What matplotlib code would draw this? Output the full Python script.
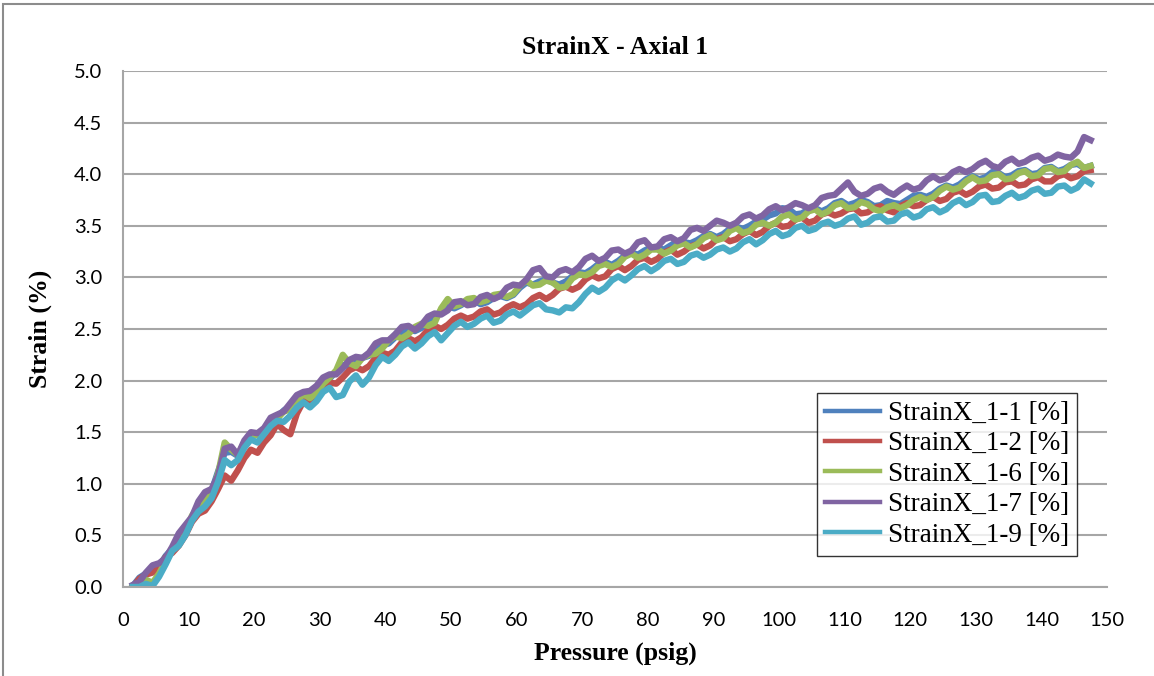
import numpy as np
import matplotlib
matplotlib.use("Agg")
import matplotlib.pyplot as plt
from matplotlib.patches import Rectangle

# pressure samples (psig), one per psig
pressure = np.arange(1.5, 148.0, 1.0)

strain_1_1 = [0.01, 0.09, 0.13, 0.15, 0.20, 0.30, 0.37, 0.49, 0.57, 0.66,
              0.80, 0.88, 0.93, 1.12, 1.30, 1.31, 1.27, 1.39, 1.47, 1.48,
              1.53, 1.60, 1.64, 1.71, 1.75, 1.82, 1.86, 1.88, 1.92, 1.99,
              2.02, 2.09, 2.15, 2.14, 2.18, 2.22, 2.24, 2.30, 2.34, 2.36,
              2.42, 2.47, 2.49, 2.48, 2.51, 2.57, 2.60, 2.68, 2.72, 2.70,
              2.73, 2.77, 2.78, 2.74, 2.76, 2.80, 2.82, 2.80, 2.83, 2.90,
              2.95, 2.93, 2.96, 2.98, 2.95, 2.93, 2.96, 3.01, 3.05, 3.04,
              3.08, 3.13, 3.15, 3.12, 3.16, 3.21, 3.24, 3.22, 3.26, 3.29,
              3.28, 3.27, 3.31, 3.35, 3.34, 3.33, 3.36, 3.40, 3.42, 3.39,
              3.42, 3.47, 3.49, 3.47, 3.50, 3.54, 3.56, 3.60, 3.62, 3.67,
              3.66, 3.61, 3.62, 3.66, 3.67, 3.64, 3.67, 3.72, 3.74, 3.70,
              3.72, 3.75, 3.73, 3.69, 3.70, 3.74, 3.72, 3.71, 3.75, 3.79,
              3.80, 3.78, 3.81, 3.86, 3.89, 3.87, 3.90, 3.95, 3.98, 3.95,
              3.97, 4.02, 4.01, 3.97, 3.99, 4.03, 4.04, 4.00, 4.01, 4.06,
              4.07, 4.03, 4.05, 4.09, 4.10, 4.06, 4.08]
strain_1_2 = [0.00, 0.08, 0.12, 0.14, 0.20, 0.29, 0.33, 0.40, 0.50, 0.63,
              0.71, 0.74, 0.83, 0.95, 1.08, 1.03, 1.13, 1.25, 1.33, 1.30,
              1.40, 1.47, 1.58, 1.52, 1.48, 1.68, 1.80, 1.79, 1.84, 1.93,
              1.98, 1.97, 2.03, 2.10, 2.13, 2.10, 2.14, 2.22, 2.27, 2.25,
              2.29, 2.37, 2.41, 2.38, 2.42, 2.49, 2.53, 2.50, 2.54, 2.60,
              2.63, 2.60, 2.62, 2.67, 2.69, 2.64, 2.66, 2.71, 2.74, 2.71,
              2.74, 2.80, 2.83, 2.79, 2.83, 2.89, 2.91, 2.88, 2.91, 2.98,
              3.02, 2.99, 3.01, 3.08, 3.11, 3.07, 3.11, 3.17, 3.19, 3.15,
              3.18, 3.24, 3.27, 3.22, 3.25, 3.30, 3.32, 3.28, 3.31, 3.37,
              3.39, 3.35, 3.37, 3.42, 3.45, 3.41, 3.44, 3.50, 3.53, 3.49,
              3.50, 3.56, 3.58, 3.53, 3.55, 3.61, 3.63, 3.60, 3.62, 3.66,
              3.67, 3.62, 3.63, 3.67, 3.69, 3.65, 3.63, 3.69, 3.72, 3.69,
              3.70, 3.75, 3.78, 3.74, 3.76, 3.82, 3.84, 3.80, 3.83, 3.88,
              3.90, 3.86, 3.87, 3.92, 3.93, 3.89, 3.90, 3.95, 3.97, 3.93,
              3.93, 3.98, 4.00, 3.96, 3.98, 4.03, 4.04]
strain_1_6 = [0.00, 0.02, 0.07, 0.04, 0.13, 0.25, 0.36, 0.47, 0.53, 0.69,
              0.78, 0.83, 0.90, 1.10, 1.40, 1.33, 1.28, 1.40, 1.48, 1.47,
              1.50, 1.58, 1.63, 1.70, 1.72, 1.80, 1.87, 1.83, 1.88, 1.97,
              2.03, 2.10, 2.25, 2.17, 2.14, 2.22, 2.25, 2.26, 2.31, 2.39,
              2.43, 2.41, 2.45, 2.52, 2.55, 2.53, 2.56, 2.70, 2.79, 2.72,
              2.74, 2.79, 2.80, 2.76, 2.78, 2.83, 2.84, 2.81, 2.84, 2.92,
              2.97, 2.92, 2.93, 2.97, 2.95, 2.90, 2.91, 2.99, 3.03, 3.02,
              3.05, 3.11, 3.13, 3.10, 3.13, 3.20, 3.23, 3.19, 3.22, 3.27,
              3.27, 3.23, 3.26, 3.31, 3.33, 3.29, 3.32, 3.38, 3.41, 3.36,
              3.38, 3.45, 3.48, 3.43, 3.45, 3.51, 3.53, 3.50, 3.53, 3.59,
              3.61, 3.56, 3.58, 3.64, 3.66, 3.61, 3.64, 3.70, 3.72, 3.67,
              3.68, 3.73, 3.71, 3.66, 3.64, 3.68, 3.70, 3.67, 3.70, 3.75,
              3.78, 3.75, 3.78, 3.84, 3.88, 3.85, 3.87, 3.93, 3.97, 3.93,
              3.94, 3.99, 4.00, 3.95, 3.96, 4.01, 4.03, 3.98, 3.99, 4.05,
              4.06, 4.02, 4.03, 4.09, 4.12, 4.06, 4.08]
strain_1_7 = [0.02, 0.05, 0.14, 0.21, 0.23, 0.28, 0.39, 0.52, 0.60, 0.68,
              0.83, 0.92, 0.95, 1.08, 1.34, 1.36, 1.28, 1.42, 1.50, 1.49,
              1.54, 1.64, 1.67, 1.70, 1.78, 1.86, 1.89, 1.90, 1.95, 2.03,
              2.06, 2.06, 2.12, 2.20, 2.23, 2.22, 2.27, 2.36, 2.39, 2.39,
              2.45, 2.52, 2.53, 2.49, 2.54, 2.62, 2.65, 2.64, 2.68, 2.76,
              2.77, 2.73, 2.74, 2.81, 2.83, 2.79, 2.82, 2.90, 2.93, 2.92,
              2.98, 3.07, 3.09, 3.01, 3.00, 3.06, 3.08, 3.05, 3.10, 3.18,
              3.21, 3.16, 3.19, 3.26, 3.27, 3.23, 3.26, 3.34, 3.36, 3.29,
              3.30, 3.37, 3.39, 3.35, 3.38, 3.46, 3.48, 3.45, 3.50, 3.55,
              3.53, 3.50, 3.53, 3.59, 3.61, 3.57, 3.60, 3.66, 3.69, 3.65,
              3.68, 3.72, 3.70, 3.67, 3.70, 3.77, 3.79, 3.80, 3.86, 3.92,
              3.83, 3.79, 3.81, 3.86, 3.88, 3.83, 3.80, 3.85, 3.89, 3.85,
              3.87, 3.94, 3.98, 3.94, 3.96, 4.02, 4.05, 4.02, 4.05, 4.10,
              4.13, 4.08, 4.06, 4.12, 4.15, 4.10, 4.12, 4.16, 4.18, 4.13,
              4.15, 4.19, 4.17, 4.16, 4.22, 4.36, 4.33]
strain_1_9 = [0.00, 0.00, 0.03, 0.01, 0.10, 0.22, 0.35, 0.40, 0.50, 0.64,
              0.73, 0.78, 0.86, 1.02, 1.23, 1.18, 1.23, 1.35, 1.43, 1.40,
              1.48, 1.56, 1.61, 1.60, 1.66, 1.74, 1.79, 1.74, 1.80, 1.89,
              1.93, 1.84, 1.86, 1.99, 2.05, 1.96, 2.03, 2.15, 2.23, 2.19,
              2.25, 2.33, 2.37, 2.31, 2.36, 2.43, 2.47, 2.39, 2.46, 2.53,
              2.57, 2.52, 2.55, 2.60, 2.63, 2.56, 2.58, 2.64, 2.67, 2.63,
              2.68, 2.73, 2.75, 2.69, 2.68, 2.66, 2.71, 2.70, 2.76, 2.84,
              2.90, 2.86, 2.90, 2.97, 3.01, 2.97, 3.02, 3.08, 3.11, 3.06,
              3.10, 3.16, 3.18, 3.13, 3.15, 3.21, 3.23, 3.19, 3.22, 3.27,
              3.29, 3.25, 3.28, 3.34, 3.37, 3.32, 3.36, 3.42, 3.45, 3.40,
              3.42, 3.48, 3.50, 3.45, 3.47, 3.52, 3.54, 3.50, 3.52, 3.57,
              3.59, 3.51, 3.53, 3.58, 3.59, 3.54, 3.55, 3.61, 3.63, 3.58,
              3.60, 3.66, 3.68, 3.63, 3.66, 3.72, 3.75, 3.70, 3.73, 3.79,
              3.80, 3.73, 3.74, 3.79, 3.82, 3.77, 3.79, 3.84, 3.86, 3.81,
              3.82, 3.88, 3.89, 3.84, 3.87, 3.95, 3.91]

labels = ["StrainX_1-1 [%]", "StrainX_1-2 [%]", "StrainX_1-6 [%]",
          "StrainX_1-7 [%]", "StrainX_1-9 [%]"]
colors = ["#4F81BD", "#C0504D", "#9BBB59", "#8064A2", "#4BACC6"]
series = [strain_1_1, strain_1_2, strain_1_6, strain_1_7, strain_1_9]

fig = plt.figure(figsize=(11.54, 6.76), dpi=100)
ax = fig.add_axes([0.1066, 0.1317, 0.8527, 0.7633])

for vals, lab, col in zip(series, labels, colors):
    ax.plot(pressure, vals, color=col, lw=4.6, label=lab, solid_joinstyle="round")

ax.set_xlim(0, 150)
ax.set_ylim(0, 5)
ax.set_xticks(np.arange(0, 151, 10))
ax.set_yticks(np.arange(0, 5.01, 0.5))
ax.set_yticklabels([f"{v:.1f}" for v in np.arange(0, 5.01, 0.5)])
ax.grid(axis="y", color="#A6A6A6", lw=1.5)
ax.set_axisbelow(True)
ax.tick_params(length=0, labelsize=14.5)
ax.tick_params(axis="x", pad=18)
ax.tick_params(axis="y", pad=15)
for lbl in ax.get_xticklabels() + ax.get_yticklabels():
    lbl.set_family("Lato")
for side in ["top", "right"]:
    ax.spines[side].set_visible(False)
for side in ["left", "bottom"]:
    ax.spines[side].set_color("#A6A6A6")
    ax.spines[side].set_linewidth(1.5)

serif_bold = dict(fontfamily="Liberation Serif", fontweight="bold", fontsize=18.5)
ax.set_title("StrainX - Axial 1", pad=12, **serif_bold)
ax.set_xlabel("Pressure (psig)", labelpad=9, **serif_bold)
ax.set_ylabel("Strain (%)", labelpad=16, **serif_bold)

leg = ax.legend(loc="upper right", bbox_to_anchor=(0.9695, 0.376),
                prop={"family": "Liberation Serif", "size": 19.5},
                frameon=True, fancybox=False, edgecolor="black",
                handlelength=2.0, handletextpad=0.3, labelspacing=0.2,
                borderpad=0.3, borderaxespad=0)
leg.get_frame().set_linewidth(1.0)
for h in leg.get_lines():
    h.set_linewidth(3.2)

# chart area border (only top and left edges are inside the picture)
fig.patches.append(Rectangle((0.0026, -0.1), 1.2, 1.0941, transform=fig.transFigure,
                             fill=False, edgecolor="#8C8C8C", lw=1.5))

fig.savefig("out.png", dpi=100)
